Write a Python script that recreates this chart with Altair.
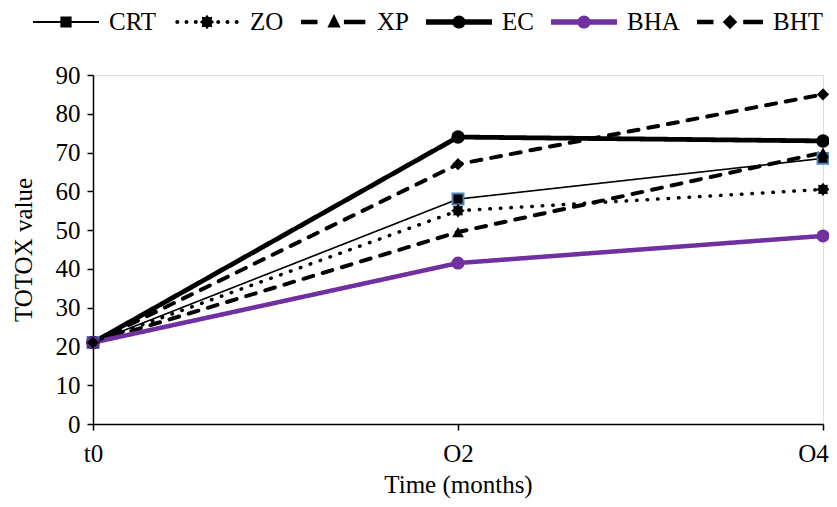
import math
import altair as alt
import pandas as pd

series = ["CRT", "ZO", "XP", "EC", "BHA", "BHT"]
times = ["t0", "O2", "O4"]
crt = [21, 58, 68.5]
zo = [21, 55, 60.5]
xp = [21, 49.5, 70]
ec = [21, 74, 73]
bha = [21, 41.5, 48.5]
bht = [21, 67, 85]

values = {"CRT": crt, "ZO": zo, "XP": xp, "EC": ec, "BHA": bha, "BHT": bht}
rows = []
for s in series:
    for t, v in zip(times, values[s]):
        rows.append({"series": s, "time": t, "value": v})
df = pd.DataFrame(rows)

FONT = "Liberation Serif"
FS = 25
BLACK = "#000000"
PURPLE = "#7030A0"
BLUE = "#4F81BD"

line_colors = [BLACK, BLACK, BLACK, BLACK, PURPLE, BLACK]
dashes = [[1, 0], [0.5, 10], [10, 10], [1, 0], [1, 0], [10, 10]]
widths = [1.6, 3.5, 4, 4.8, 4.5, 4]


def star(s=1.0, n=8, k=0.72):
    pts = []
    for i in range(2 * n):
        r = s if i % 2 == 0 else s * k
        a = math.pi * i / n
        pts.append(f"{r * math.sin(a):.3f},{-r * math.cos(a):.3f}")
    return "M" + "L".join(pts) + "Z"


STAR = star()
marker_shapes = ["square", STAR, "triangle-up", "circle", "circle", "diamond"]
marker_sizes = [120, 180, 140, 180, 170, 150]
marker_stroke = [BLUE, BLACK, BLACK, BLACK, PURPLE, BLACK]
marker_strokew = [2, 0, 0, 0, 0, 0]


# legend symbols: line segment + marker, in [-1,1] units (1 unit = 33 px)
def rect(x1, x2, h):
    return f"M{x1},{-h}H{x2}V{h}H{x1}Z"


def circ(cx, r):
    return f"M{cx - r},0a{r},{r} 0 1,1 {2 * r},0a{r},{r} 0 1,1 {-2 * r},0Z"


leg_paths = [
    rect(-1, 1, 0.03) + rect(-0.17, 0.17, 0.17),
    circ(-0.9, 0.06) + circ(-0.62, 0.06) + circ(-0.34, 0.06) + circ(0.34, 0.06) + circ(0.62, 0.06) + circ(0.9, 0.06) + star(0.22),
    rect(-1, -0.5, 0.065) + rect(0.3, 0.95, 0.065) + "M0,-0.24L0.2,0.17L-0.2,0.17Z",
    rect(-1, 1, 0.08) + circ(0, 0.2),
    rect(-1, 1, 0.08) + circ(0, 0.2),
    rect(-1, -0.5, 0.065) + rect(0.4, 1, 0.065) + "M0,-0.22L0.22,0L0,0.22L-0.22,0Z",
]

base = alt.Chart(df)

x_enc = alt.X(
    "time:N",
    sort=times,
    scale=alt.Scale(type="point", padding=0, domain=times),
    axis=alt.Axis(
        title="Time (months)", labelAngle=0, labelFont=FONT, labelFontSize=FS,
        labelColor=BLACK, titleFont=FONT, titleFontSize=FS, titleFontWeight="normal",
        titleColor=BLACK, domainColor=BLACK, domainWidth=1.5, tickColor=BLACK,
        tickWidth=1.5, tickSize=6, labelPadding=11, titlePadding=6, grid=False,
        labelOffset={"expr": "datum.value == 'O4' ? -10 : 0"},
    ),
)
y_enc = alt.Y(
    "value:Q",
    scale=alt.Scale(domain=[0, 90], nice=False),
    axis=alt.Axis(
        title="TOTOX value", values=list(range(0, 91, 10)), labelFont=FONT,
        labelFontSize=FS, labelColor=BLACK, titleFont=FONT, titleFontSize=FS,
        titleFontWeight="normal", titleColor=BLACK, domainColor=BLACK,
        domainWidth=1.5, tickColor=BLACK, tickWidth=1.5, tickSize=6,
        labelPadding=7, titlePadding=19, grid=False,
    ),
)

lines = base.mark_line(strokeCap="round", strokeJoin="round").encode(
    x=x_enc,
    y=y_enc,
    detail="series:N",
    stroke=alt.Stroke("series:N", scale=alt.Scale(type="ordinal", domain=series, range=line_colors), legend=None),
    strokeDash=alt.StrokeDash("series:N", scale=alt.Scale(type="ordinal", domain=series, range=dashes), legend=None),
    strokeWidth=alt.StrokeWidth("series:N", scale=alt.Scale(type="ordinal", domain=series, range=widths), legend=None),
)

points = base.mark_point(filled=True, opacity=1).encode(
    x=x_enc,
    y=y_enc,
    shape=alt.Shape("series:N", scale=alt.Scale(type="ordinal", domain=series, range=marker_shapes), legend=None),
    fill=alt.Fill("series:N", scale=alt.Scale(type="ordinal", domain=series, range=line_colors), legend=None),
    stroke=alt.Stroke("series:N", scale=alt.Scale(type="ordinal", domain=series, range=marker_stroke), legend=None),
    strokeWidth=alt.StrokeWidth("series:N", scale=alt.Scale(type="ordinal", domain=series, range=marker_strokew), legend=None),
    size=alt.Size("series:N", scale=alt.Scale(type="ordinal", domain=series, range=marker_sizes), legend=None),
)

leg = alt.Legend(
    title=None, orient="none", legendX=-60, legendY=-86, direction="horizontal",
    symbolSize=4356, symbolStrokeWidth=0, labelFont=FONT, labelFontSize=FS,
    labelColor=BLACK, columnPadding=17, labelOffset=10,
)

legend_layer = base.transform_filter(alt.datum.value < 0).mark_point(filled=True, opacity=1).encode(
    x=x_enc,
    y=y_enc,
    shape=alt.Shape("series:N", scale=alt.Scale(type="ordinal", domain=series, range=leg_paths), legend=leg),
    fill=alt.Fill("series:N", scale=alt.Scale(type="ordinal", domain=series, range=line_colors), legend=leg),
)

chart = (
    alt.layer(lines, points, legend_layer)
    .resolve_scale(shape="independent", fill="independent", stroke="independent",
                   strokeWidth="independent", strokeDash="independent", size="independent")
    .properties(width=730, height=349, padding={"left": 85, "top": 67, "right": 6, "bottom": 75},
                autosize=alt.AutoSizeParams(type="none"))
    .configure_view(stroke=None)
    .configure(background="white")
)

chart.save("out.html", embed_options={"renderer": "svg", "actions": False})
